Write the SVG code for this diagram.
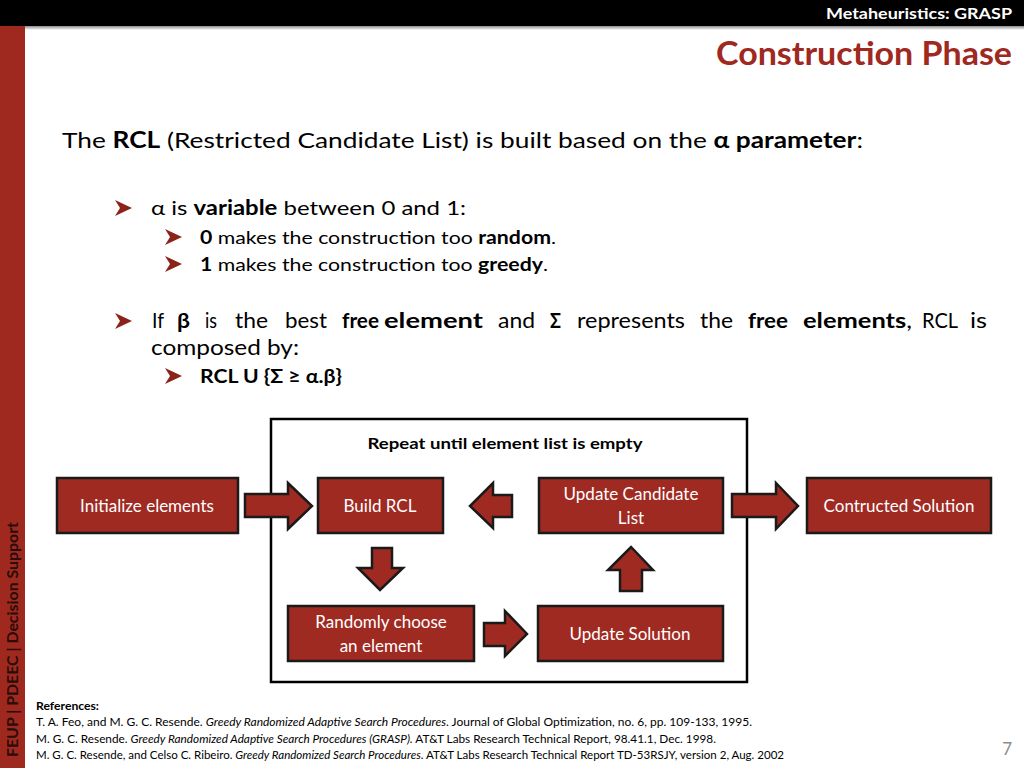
<svg xmlns="http://www.w3.org/2000/svg" width="1024" height="768" viewBox="0 0 1024 768">
<defs>
<linearGradient id="shadow" x1="0" y1="0" x2="0" y2="1">
<stop offset="0" stop-color="#000" stop-opacity="0.45"/>
<stop offset="1" stop-color="#000" stop-opacity="0"/>
</linearGradient>
<polygon id="bullet" points="0,-8 17,0 0,8 5,0" />
</defs>
<style>
text{font-family:Lato,"Open Sans","Liberation Sans",sans-serif;}
.b{font-weight:bold;}
.node rect{fill:#9F2A22;stroke:#1a1a1a;stroke-width:2.5;}
.node text{fill:#fff;font-size:17px;text-anchor:middle;}
.arr{fill:#9F2A22;stroke:#1a1a1a;stroke-width:2.5;stroke-linejoin:miter;}
.bul{fill:#8B231B;}
.body{fill:#000;}
.j{font-size:21px;fill:#000;}
.ref{font-size:11px;fill:#000;}
</style>
<rect x="0" y="0" width="1024" height="768" fill="#fff"/>
<!-- header -->
<rect x="0" y="0" width="1024" height="26" fill="#000"/>
<rect x="0" y="26" width="1024" height="4" fill="url(#shadow)"/>
<text x="1012" y="19" fill="#fff" font-size="16" class="b" text-anchor="end" textLength="186" lengthAdjust="spacingAndGlyphs">Metaheuristics: GRASP</text>
<rect x="0" y="26" width="25" height="742" fill="#A0291F"/>
<text transform="translate(18,757) rotate(-90)" font-size="15" class="b" fill="#2a0c09" textLength="235" lengthAdjust="spacingAndGlyphs">FEUP | PDEEC | Decision Support</text>
<text x="1012" y="65" fill="#A0291F" font-size="32" class="b" text-anchor="end" textLength="296" lengthAdjust="spacingAndGlyphs">Construction Phase</text>

<!-- body text -->
<text x="62" y="148" font-size="22" class="body" textLength="801" lengthAdjust="spacingAndGlyphs">The <tspan class="b">RCL</tspan> (Restricted Candidate List) is built based on the <tspan class="b">α parameter</tspan>:</text>

<use href="#bullet" x="115" y="208" class="bul"/>
<text x="151" y="215" font-size="20" class="body" textLength="315" lengthAdjust="spacingAndGlyphs">α is <tspan class="b">variable</tspan> between 0 and 1:</text>
<use href="#bullet" x="165" y="237" class="bul"/>
<text x="200" y="244" font-size="18" class="body" textLength="356" lengthAdjust="spacingAndGlyphs"><tspan class="b">0</tspan> makes the construction too <tspan class="b">random</tspan>.</text>
<use href="#bullet" x="165" y="264" class="bul"/>
<text x="200" y="271" font-size="18" class="body" textLength="348" lengthAdjust="spacingAndGlyphs"><tspan class="b">1</tspan> makes the construction too <tspan class="b">greedy</tspan>.</text>

<use href="#bullet" x="115" y="321" class="bul"/>
<g id="justified">
<text x="152" y="328" class="j" textLength="12" lengthAdjust="spacingAndGlyphs">If</text>
<text x="177" y="328" class="j b" textLength="13" lengthAdjust="spacingAndGlyphs">β</text>
<text x="205" y="328" class="j" textLength="12" lengthAdjust="spacingAndGlyphs">is</text>
<text x="235" y="328" class="j" textLength="33" lengthAdjust="spacingAndGlyphs">the</text>
<text x="285" y="328" class="j" textLength="42" lengthAdjust="spacingAndGlyphs">best</text>
<text x="342" y="328" class="j b" textLength="37" lengthAdjust="spacingAndGlyphs">free</text>
<text x="384" y="328" class="j b" textLength="99" lengthAdjust="spacingAndGlyphs">element</text>
<text x="498" y="328" class="j" textLength="37" lengthAdjust="spacingAndGlyphs">and</text>
<text x="550" y="328" class="j b" textLength="11" lengthAdjust="spacingAndGlyphs">Σ</text>
<text x="577" y="328" class="j" textLength="108" lengthAdjust="spacingAndGlyphs">represents</text>
<text x="700" y="328" class="j" textLength="33" lengthAdjust="spacingAndGlyphs">the</text>
<text x="748" y="328" class="j b" textLength="40" lengthAdjust="spacingAndGlyphs">free</text>
<text x="803" y="328" class="j" textLength="109" lengthAdjust="spacingAndGlyphs"><tspan class="b">elements</tspan>,</text>
<text x="922" y="328" class="j" textLength="36" lengthAdjust="spacingAndGlyphs">RCL</text>
<text x="970" y="328" class="j" textLength="17" lengthAdjust="spacingAndGlyphs">is</text>
</g>
<text x="151" y="355" font-size="21" class="body" textLength="148" lengthAdjust="spacingAndGlyphs">composed by:</text>
<use href="#bullet" x="165" y="376" class="bul"/>
<text x="200" y="383" font-size="18" class="body b" textLength="142" lengthAdjust="spacingAndGlyphs">RCL U {Σ ≥ α.β}</text>

<!-- loop frame -->
<g id="loop">
<rect x="271" y="419" width="476" height="263" fill="none" stroke="#000" stroke-width="2.5"/>
<text x="505" y="449" font-size="16" class="b" text-anchor="middle" textLength="275" lengthAdjust="spacingAndGlyphs">Repeat until element list is empty</text>
</g>

<!-- connectors -->
<g id="connectors">
<polygon class="arr" points="245,494 288,494 288,483 312,506 288,529 288,517 245,517"/>
<polygon class="arr" points="512,495 493,495 493,483 470,506 493,528 493,517 512,517"/>
<polygon class="arr" points="732,494 776,494 776,483 798,506 776,529 776,517 732,517"/>
<polygon class="arr" points="372,548 392,548 392,568 403,568 380,590 358,568 372,568"/>
<polygon class="arr" points="484,623 505,623 505,611 527,634 505,656 505,646 484,646"/>
<polygon class="arr" points="620,591 642,591 642,570 653,570 631,547 608,570 620,570"/>
</g>

<!-- nodes -->
<g id="n-init" class="node"><rect x="57" y="478" width="181" height="55"/><text x="147" y="512">Initialize elements</text></g>
<g id="n-build" class="node"><rect x="318" y="478" width="125" height="55"/><text x="380" y="512">Build RCL</text></g>
<g id="n-update-cand" class="node"><rect x="539" y="478" width="184" height="55"/><text x="631" y="500">Update Candidate</text><text x="631" y="524">List</text></g>
<g id="n-constructed" class="node"><rect x="807" y="478" width="184" height="55"/><text x="899" y="512">Contructed Solution</text></g>
<g id="n-random" class="node"><rect x="288" y="606" width="186" height="55"/><text x="381" y="628">Randomly choose</text><text x="381" y="652">an element</text></g>
<g id="n-update-sol" class="node"><rect x="538" y="606" width="185" height="55"/><text x="630" y="640">Update Solution</text></g>

<!-- references -->
<text x="36" y="710" class="ref b" textLength="63" lengthAdjust="spacingAndGlyphs">References:</text>
<text x="36" y="726" class="ref" textLength="716" lengthAdjust="spacingAndGlyphs">T. A. Feo, and M. G. C. Resende. <tspan font-style="italic">Greedy Randomized Adaptive Search Procedures</tspan>. Journal of Global Optimization, no. 6, pp. 109-133, 1995.</text>
<text x="36" y="743" class="ref" textLength="680" lengthAdjust="spacingAndGlyphs">M. G. C. Resende. <tspan font-style="italic">Greedy Randomized Adaptive Search Procedures (GRASP).</tspan> AT&amp;T Labs Research Technical Report, 98.41.1, Dec. 1998.</text>
<text x="36" y="759" class="ref" textLength="748" lengthAdjust="spacingAndGlyphs">M. G. C. Resende, and Celso C. Ribeiro. <tspan font-style="italic">Greedy Randomized Search Procedures</tspan>. AT&amp;T Labs Research Technical Report TD-53RSJY, version 2, Aug. 2002</text>
<text x="1012" y="755" font-size="17" fill="#8c8c8c" text-anchor="end">7</text>
</svg>
